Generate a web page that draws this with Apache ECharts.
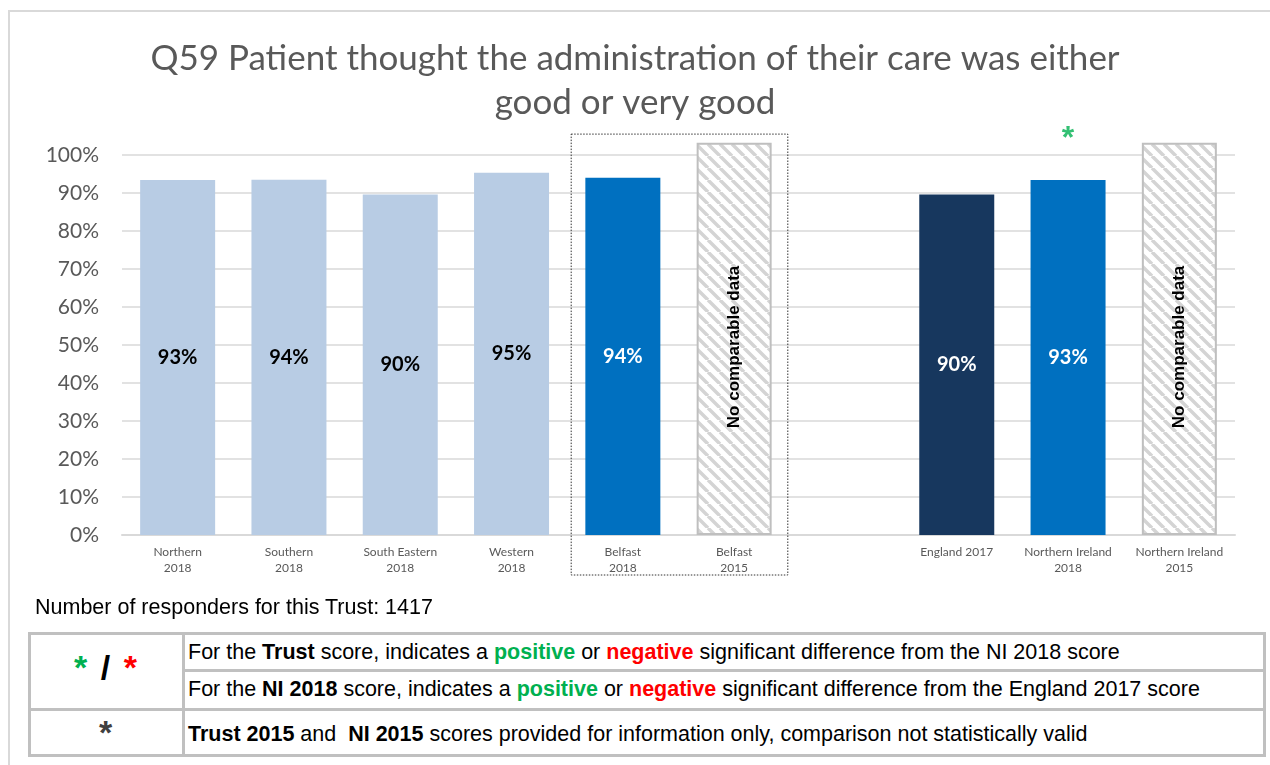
<!DOCTYPE html>
<html>
<head>
<meta charset="utf-8">
<script src="https://cdn.jsdelivr.net/npm/echarts@6/dist/echarts.min.js"></script>
<style>
  html, body { margin: 0; padding: 0; background: #fff; }
  #page { position: relative; width: 1270px; height: 765px; overflow: hidden; }
  #frame { position: absolute; left: 8px; top: 10px; right: -2px; bottom: -2px;
           border-top: 2px solid #d9d9d9; border-left: 2px solid #d9d9d9; }
  #chart { position: absolute; left: 0; top: 0; width: 1270px; height: 600px; }
  .txt { position: absolute; font-family: "Liberation Sans", Arial, sans-serif; color: #000;
         white-space: nowrap; font-size: 21.5px; line-height: 24px; }
  .line { position: absolute; background: #c0c0c0; }
  .g { color: #00b050; font-weight: bold; }
  .r { color: #ff0000; font-weight: bold; }
  b { font-weight: bold; }
</style>
</head>
<body>
<div id="page">
  <div id="frame"></div>
  <div id="chart"></div>

  <div class="txt" id="responders" style="left:35px; top:595px; font-size:21.5px;"></div>

  <!-- key table -->
  <div style="position:absolute; left:28px; top:632px; width:1232px; height:119px; border:3px solid #c0c0c0;"></div>
  <div class="line" style="left:182px; top:632px; width:3px; height:125px;"></div>
  <div class="line" style="left:183px; top:669px; width:1083px; height:3px;"></div>
  <div class="line" style="left:28px; top:708px; width:1238px; height:3px;"></div>

  <div class="txt" style="left:28px; width:155px; top:649px; text-align:center; font-size:34px; font-weight:bold; line-height:36px; word-spacing:4px;">
    <span class="g">*</span> <span style="color:#000;">/</span> <span class="r">*</span>
  </div>
  <div class="txt" style="left:188px; top:640px;">For the <b>Trust</b> score, indicates a <span class="g">positive</span> or <span class="r">negative</span> significant difference from the NI 2018 score</div>
  <div class="txt" style="left:188px; top:677px;">For the <b>NI 2018</b> score, indicates a <span class="g">positive</span> or <span class="r">negative</span> significant difference from the England 2017 score</div>
  <div class="txt" style="left:28px; width:155px; top:714px; text-align:center; font-size:34px; font-weight:bold; color:#404040; line-height:36px;">*</div>
  <div class="txt" style="left:188px; top:722px;"><b>Trust 2015</b> and&nbsp; <b>NI 2015</b> scores provided for information only, comparison not statistically valid</div>
</div>

<script>
// Survey question and sample size
const questionTitle = 'Q59 Patient thought the administration of their care was either\ngood or very good';
const respondersCount = 1417;

// Categories along the x axis (the blank one separates the trusts from the national figures)
const categories = [
  'Northern\n2018', 'Southern\n2018', 'South Eastern\n2018', 'Western\n2018',
  'Belfast\n2018', 'Belfast\n2015', '',
  'England 2017', 'Northern Ireland\n2018', 'Northern Ireland\n2015'
];

// Percentage scoring "good" or "very good" (null = no bar)
const scores = [93.4, 93.5, 89.6, 95.3, 94.0, null, null, 89.6, 93.4, null];

// Years with no comparable data
const noComparable = [false, false, false, false, false, true, false, false, false, true];

// Significance flags: '+' positive, '-' negative, '' none
const significance = ['', '', '', '', '', '', '', '', '+', ''];

// Y axis tick values
const yTicks = [0, 10, 20, 30, 40, 50, 60, 70, 80, 90, 100];

// ---- styling ----
const BAR_COLOURS = ['#b8cce4', '#b8cce4', '#b8cce4', '#b8cce4', '#0070c0', null, null, '#17375e', '#0070c0', null];
const LABEL_COLOURS = ['#000', '#000', '#000', '#000', '#fff', null, null, '#fff', '#fff', null];
const PLACEHOLDER_HEIGHT = 103.2;   // hatched placeholder bars reach just above 100%
const SIG_LEVEL = 104.2;           // height of the significance asterisks

document.getElementById('responders').textContent = 'Number of responders for this Trust: ' + respondersCount;

// diagonal hatch for the "no comparable data" bars
function hatch() {
  const s = 12;
  const c = document.createElement('canvas');
  c.width = s; c.height = s;
  const g = c.getContext('2d');
  g.fillStyle = '#fff';
  g.fillRect(0, 0, s, s);
  g.strokeStyle = '#d4d4d4';
  g.lineWidth = 3.5;
  g.beginPath();
  for (let k = -1; k <= 1; k++) {
    g.moveTo(k * s, 0);
    g.lineTo(k * s + s, s);
  }
  g.stroke();
  return c;
}

const chart = echarts.init(document.getElementById('chart'));

const scoreData = scores.map((v, i) => v == null ? null : {
  value: v,
  itemStyle: { color: BAR_COLOURS[i] },
  label: { color: LABEL_COLOURS[i] }
});

const placeholderData = noComparable.map(f => f ? PLACEHOLDER_HEIGHT : null);

const sigData = significance.map((s, i) => s ? {
  value: [i, SIG_LEVEL],
  label: { color: s === '+' ? '#00b050' : '#ff0000' }
} : null).filter(Boolean);

chart.setOption({
  animation: false,
  title: {
    text: questionTitle,
    left: 'center',
    top: 32,
    textStyle: {
      fontFamily: 'Lato',
      fontSize: 35,
      fontWeight: 'normal',
      color: '#595959',
      lineHeight: 44
    }
  },
  grid: { left: 122, right: 35, top: 155, height: 380 },
  xAxis: {
    type: 'category',
    data: categories,
    axisTick: { show: false },
    axisLine: { lineStyle: { color: '#d9d9d9', width: 2 } },
    axisLabel: {
      interval: 0,
      margin: 9,
      fontFamily: 'Lato',
      fontSize: 12,
      lineHeight: 16,
      color: '#595959'
    }
  },
  yAxis: {
    type: 'value',
    min: 0,
    max: 100,
    interval: 10,
    axisLine: { show: false },
    axisTick: { show: false },
    splitLine: { lineStyle: { color: '#d9d9d9', width: 1.5 } },
    axisLabel: {
      margin: 23,
      fontFamily: 'Lato',
      fontSize: 21,
      color: '#595959',
      formatter: v => yTicks.includes(v) ? v + '%' : ''
    }
  },
  series: [
    {
      type: 'bar',
      data: scoreData,
      barWidth: 75,
      barGap: '-100%',
      label: {
        show: true,
        position: 'inside',
        fontFamily: 'Lato',
        fontWeight: 'bold',
        fontSize: 20,
        formatter: p => Math.round(p.value) + '%'
      }
    },
    {
      type: 'bar',
      data: placeholderData,
      barWidth: 75,
      barGap: '-100%',
      clip: false,
      itemStyle: {
        color: { image: hatch(), repeat: 'repeat' },
        borderColor: '#bfbfbf',
        borderWidth: 2
      },
      label: {
        show: true,
        position: 'inside',
        rotate: 90,
        offset: [-8, 0],
        formatter: 'No comparable data',
        fontFamily: 'Liberation Sans',
        fontWeight: 'bold',
        fontSize: 17,
        color: '#000'
      }
    },
    {
      type: 'scatter',
      data: sigData,
      symbolSize: 0,
      clip: false,
      silent: true,
      label: {
        show: true,
        position: 'inside',
        formatter: '*',
        fontFamily: 'Liberation Sans',
        fontWeight: 'bold',
        fontSize: 32
      }
    }
  ]
});

// dotted frame grouping the Belfast trust bars
function drawBelfastFrame() {
  const a = categories.indexOf('Belfast\n2018');
  const b = categories.indexOf('Belfast\n2015');
  const xa = chart.convertToPixel({ xAxisIndex: 0 }, a);
  const xb = chart.convertToPixel({ xAxisIndex: 0 }, b);
  const band = xb - xa;
  const top = chart.convertToPixel({ yAxisIndex: 0 }, 105.5);
  const base = chart.convertToPixel({ yAxisIndex: 0 }, 0);
  chart.setOption({
    graphic: [{
      type: 'rect',
      shape: { x: xa - band / 2 + 4, y: top, width: band * 2 - 6, height: base + 40 - top },
      style: { fill: 'none', stroke: '#333', lineWidth: 1, lineDash: [1.5, 1.5] },
      silent: true,
      z: 10
    }]
  });
}
drawBelfastFrame();
</script>
</body>
</html>
